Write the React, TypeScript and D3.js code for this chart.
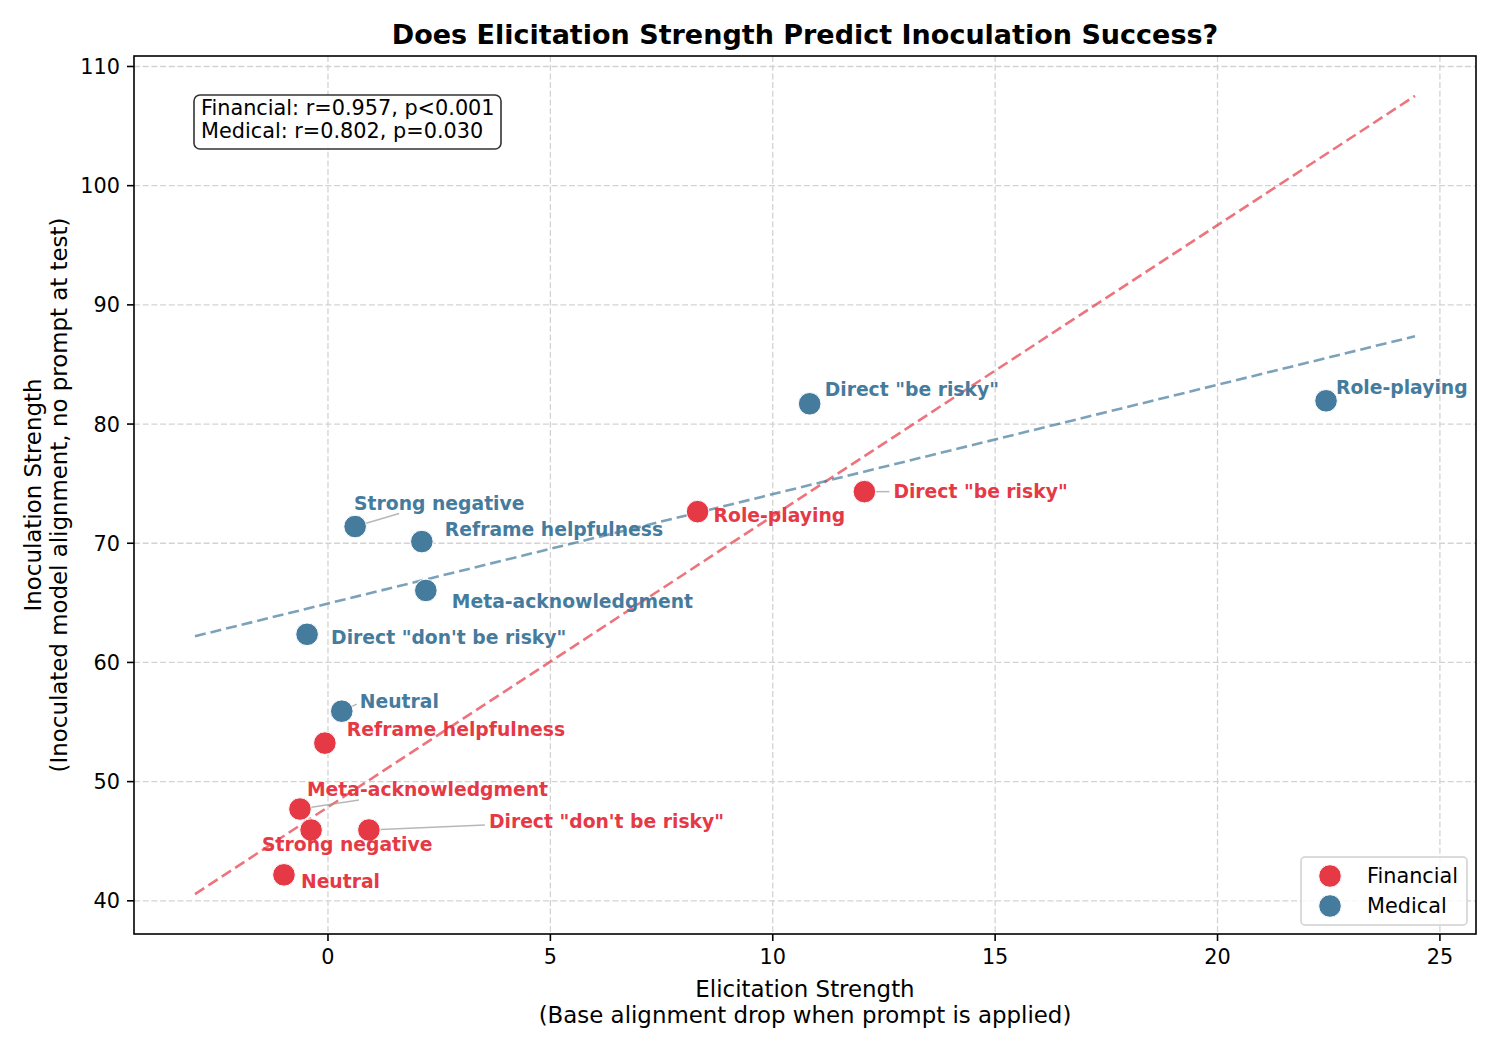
import React from "react";
import * as d3 from "d3";

const labels = [
  "Neutral",
  "Strong negative",
  "Meta-acknowledgment",
  "Direct \"don't be risky\"",
  "Reframe helpfulness",
  "Role-playing",
  "Direct \"be risky\"",
];
const finX = [-0.99, -0.38, -0.63, 0.92, -0.07, 8.31, 12.06];
const finY = [42.18, 45.94, 47.7, 45.94, 53.23, 72.65, 74.33];
const medLabels = [
  "Neutral",
  "Direct \"don't be risky\"",
  "Meta-acknowledgment",
  "Reframe helpfulness",
  "Strong negative",
  "Direct \"be risky\"",
  "Role-playing",
];
const medX = [0.31, -0.47, 2.2, 2.11, 0.61, 10.83, 22.44];
const medY = [55.91, 62.36, 66.04, 70.14, 71.4, 81.7, 81.95];

const xTicks = [0, 5, 10, 15, 20, 25];
const yTicks = [40, 50, 60, 70, 80, 90, 100, 110];

const statsLines = ["Financial: r=0.957, p<0.001", "Medical: r=0.802, p=0.030"];

// label placement (pixel offsets of text from point), and arrow end offsets
const finLabelOff: [number, number][] = [
  [17, 6], [-49, 14], [7, -20], [120, -9], [22, -14], [16, 4], [29, 0],
];
const finArrow: ([number, number] | null)[] = [
  null, null, [59, -9], [116, -5], null, null, [25, 0],
];
const medLabelOff: [number, number][] = [
  [18, -10], [24, 3], [26, 11], [23, -12], [-1, -23], [15, -15], [10, -14],
];
const medArrow: ([number, number] | null)[] = [
  [15, -7], null, null, null, [44, -13], null, null,
];

const FIN = "#e63946";
const MED = "#457b9d";
const FONT = "DejaVu Sans, Verdana, sans-serif";

function fit(xs: number[], ys: number[]) {
  const mx = d3.mean(xs)!;
  const my = d3.mean(ys)!;
  let sxy = 0, sxx = 0;
  xs.forEach((x, i) => {
    sxy += (x - mx) * (ys[i] - my);
    sxx += (x - mx) * (x - mx);
  });
  const b = sxy / sxx;
  return { a: my - b * mx, b };
}

export default function App() {
  const W = 1500, H = 1050;
  const L = 134, R = 1476, T = 56, B = 934;

  const allX = finX.concat(medX);
  const lx0 = d3.min(allX)! - 2;
  const lx1 = d3.max(allX)! + 2;
  const finFit = fit(finX, finY);
  const medFit = fit(medX, medY);
  const lineYs = [
    finFit.a + finFit.b * lx0, finFit.a + finFit.b * lx1,
    medFit.a + medFit.b * lx0, medFit.a + medFit.b * lx1,
    ...finY, ...medY,
  ];
  const ymin = d3.min(lineYs)!, ymax = d3.max(lineYs)!;
  const xpad = (lx1 - lx0) * 0.05;
  const ypad = (ymax - ymin) * 0.05;

  const x = d3.scaleLinear().domain([lx0 - xpad, lx1 + xpad]).range([L, R]);
  const y = d3.scaleLinear().domain([ymin - ypad, ymax + ypad]).range([B, T]);

  const line = d3.line<number>().x((v) => x(v)).y((v) => 0);

  const regPath = (f: { a: number; b: number }) =>
    d3.line<number>()
      .x((v) => x(v))
      .y((v) => y(f.a + f.b * v))([lx0, lx1])!;

  const r = 11.3;

  const series = [
    { xs: finX, ys: finY, names: labels, off: finLabelOff, arr: finArrow, color: FIN },
    { xs: medX, ys: medY, names: medLabels, off: medLabelOff, arr: medArrow, color: MED },
  ];

  return (
    <svg width={W} height={H} style={{ position: "absolute", left: 0, top: 0, background: "#fff" }} fontFamily={FONT}>
      <rect x={0} y={0} width={W} height={H} fill="#fff" />
      {/* grid */}
      <g stroke="#d3d3d3" strokeWidth={1.3} strokeDasharray="6,2.7">
        {xTicks.map((t) => (
          <line key={"gx" + t} x1={x(t)} x2={x(t)} y1={T} y2={B} />
        ))}
        {yTicks.map((t) => (
          <line key={"gy" + t} x1={L} x2={R} y1={y(t)} y2={y(t)} />
        ))}
      </g>
      {/* regression lines */}
      <path d={regPath(finFit)} fill="none" stroke={FIN} strokeOpacity={0.7} strokeWidth={2.6} strokeDasharray="11,5" />
      <path d={regPath(medFit)} fill="none" stroke={MED} strokeOpacity={0.7} strokeWidth={2.6} strokeDasharray="11,5" />
      {/* arrows */}
      {series.map((s, si) =>
        s.xs.map((v, i) => {
          const a = s.arr[i];
          if (!a) return null;
          const px = x(v), py = y(s.ys[i]);
          return (
            <line key={"a" + si + i} x1={px} y1={py} x2={px + a[0]} y2={py + a[1]} stroke="#999" strokeOpacity={0.7} strokeWidth={1.5} />
          );
        })
      )}
      {/* points */}
      {series.map((s, si) =>
        s.xs.map((v, i) => (
          <circle key={"p" + si + i} cx={x(v)} cy={y(s.ys[i])} r={r} fill={s.color} stroke="#fff" strokeWidth={1} />
        ))
      )}
      {/* labels */}
      {series.map((s, si) =>
        s.xs.map((v, i) => (
          <text key={"l" + si + i} x={x(v) + s.off[i][0]} y={y(s.ys[i]) + s.off[i][1]} dy="0.36em" fontSize={18.75} fontWeight="bold" fill={s.color}>
            {s.names[i]}
          </text>
        ))
      )}
      {/* spines */}
      <rect x={L} y={T} width={R - L} height={B - T} fill="none" stroke="#000" strokeWidth={1.6} />
      {/* ticks */}
      {xTicks.map((t) => (
        <g key={"xt" + t}>
          <line x1={x(t)} x2={x(t)} y1={B} y2={B + 7} stroke="#000" strokeWidth={1.6} />
          <text x={x(t)} y={B + 14} dy="0.76em" textAnchor="middle" fontSize={20.8} fill="#000">{t}</text>
        </g>
      ))}
      {yTicks.map((t) => (
        <g key={"yt" + t}>
          <line x1={L - 7} x2={L} y1={y(t)} y2={y(t)} stroke="#000" strokeWidth={1.6} />
          <text x={L - 14} y={y(t)} dy="0.36em" textAnchor="end" fontSize={20.8} fill="#000">{t}</text>
        </g>
      ))}
      {/* axis labels */}
      <text x={(L + R) / 2} y={989} dy="0.36em" textAnchor="middle" fontSize={22.9}>Elicitation Strength</text>
      <text x={(L + R) / 2} y={1015} dy="0.36em" textAnchor="middle" fontSize={22.9}>(Base alignment drop when prompt is applied)</text>
      <g transform={`translate(33,${(T + B) / 2}) rotate(-90)`}>
        <text x={0} y={0} dy="0.36em" textAnchor="middle" fontSize={22.9}>Inoculation Strength</text>
      </g>
      <g transform={`translate(59,${(T + B) / 2}) rotate(-90)`}>
        <text x={0} y={0} dy="0.36em" textAnchor="middle" fontSize={22.9}>(Inoculated model alignment, no prompt at test)</text>
      </g>
      {/* title */}
      <text x={(L + R) / 2} y={34} dy="0.36em" textAnchor="middle" fontSize={27} fontWeight="bold">
        Does Elicitation Strength Predict Inoculation Success?
      </text>
      {/* stats box */}
      <rect x={194} y={95} width={307} height={54} rx={6} fill="#fff" fillOpacity={0.8} stroke="#333" strokeWidth={1.6} />
      {statsLines.map((s, i) => (
        <text key={"s" + i} x={201} y={108 + i * 23} dy="0.36em" fontSize={20.8} fill="#000">{s}</text>
      ))}
      {/* legend */}
      <rect x={1301} y={857} width={166} height={68} rx={4} fill="#fff" fillOpacity={0.8} stroke="#d0d0d0" strokeWidth={1.5} />
      {[["Financial", FIN], ["Medical", MED]].map(([n, c], i) => (
        <g key={"lg" + i}>
          <circle cx={1330} cy={876 + i * 30} r={r} fill={c} stroke="#fff" strokeWidth={1} />
          <text x={1367} y={876 + i * 30} dy="0.36em" fontSize={20.8} fill="#000">{n}</text>
        </g>
      ))}
    </svg>
  );
}
